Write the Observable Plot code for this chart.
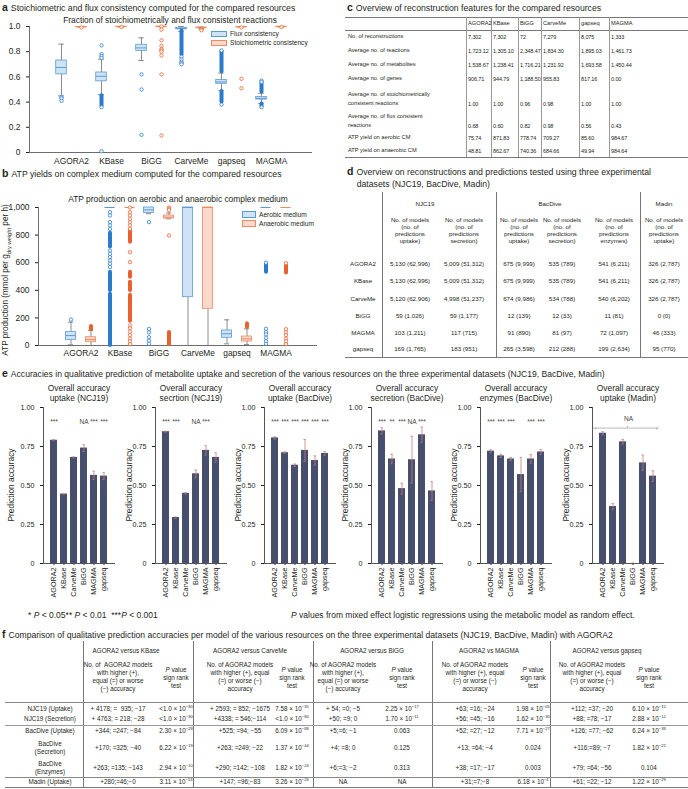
<!DOCTYPE html>
<html><head><meta charset="utf-8">
<script src="https://cdn.jsdelivr.net/npm/d3@7"></script>
<script src="https://cdn.jsdelivr.net/npm/@observablehq/plot@0.6"></script>
<style>
html,body{margin:0;padding:0;background:#fff;}
#fig{position:relative;width:688px;height:789px;overflow:hidden;font-family:"Liberation Sans",Arial,Helvetica,sans-serif;color:#231f20;}
.t{position:absolute;white-space:nowrap;}
.t b.pl{font-size:10.5px;margin-right:3px;}
sup{font-size:65%;vertical-align:super;line-height:0;}
sub{font-size:70%;line-height:0;}
</style></head><body><div id="fig"></div>
<script>
// ================= DATA =================
const resources = ["AGORA2","KBase","BiGG","CarveMe","gapseq","MAGMA"];

// a — flux consistency (box summaries)
const fluxLo  = [0.45, 0.46, 0.73, 0.96, 0.49, 0.39];
const fluxQ1  = [0.62, 0.565, 0.805, 0.978, 0.545, 0.42];
const fluxMed = [0.675, 0.605, 0.83, 0.984, 0.56, 0.43];
const fluxQ3  = [0.73, 0.635, 0.855, 0.99, 0.575, 0.44];
const fluxHi  = [0.86, 0.74, 0.91, 1.0, 0.63, 0.47];
const fluxOut = [[0.44,0.43,0.41],[0.85,0.78,0.765,0.75,0.36,0.01],[0.62,0.50,0.14],[0.76,0.74,0.72,0.71,0.70],[0.81,0.38],[0.57,0.56,0.36]];
const fluxDense = [[],[[0.37,0.45]],[],[[0.775,0.965]],[[0.64,0.80],[0.40,0.485]],[[0.48,0.55],[0.365,0.385]]];
// a — stoichiometric consistency
const stoLo  = [0.995, 0.996, 0.998, 0.985, 0.995, 0.996];
const stoQ1  = [0.995, 0.997, 0.999, 0.99, 0.995, 0.997];
const stoMed = [0.996, 0.998, 0.999, 0.99, 0.996, 0.998];
const stoQ3  = [0.997, 0.999, 1.0, 0.992, 0.997, 0.999];
const stoHi  = [0.999, 1.0, 1.0, 0.995, 0.999, 1.0];
const stoOut = [[0.993],[0.996],[1.0,0.975,0.89,0.845,0.82,0.81,0.80,0.77,0.62,0.135],[0.98,0.975,0.97],[0.993,0.585,0.51],[0.996]];
const stoDense = [[],[],[],[],[],[]];

// b — ATP production, aerobic
const aerLo  = [5, 1000, 955, 0, 12, 1000];
const aerQ1  = [41, 1000, 960, 350, 56, 1000];
const aerMed = [72, 1000, 983, 1000, 85, 1000];
const aerQ3  = [97, 1000, 1000, 1000, 109, 1000];
const aerHi  = [169, 1000, 1000, 1000, 186, 1000];
const aerOut = [[188],[966,942,894,870,845,688,664,640,616,592,568],[894,120,95,60,35,12],[],[],[600,121,97,80,56,31,12]];
const aerDense = [[],[[0,372],[399,531],[713,814]],[],[],[],[[530,590]]];
// b — ATP production, anaerobic
const anaLo  = [0, 1000, 918, 0, 7, 1000];
const anaQ1  = [24, 1000, 920, 266, 29, 1000];
const anaMed = [43, 1000, 930, 1000, 48, 1000];
const anaQ3  = [60, 1000, 942, 1000, 65, 1000];
const anaHi  = [109, 1000, 960, 1000, 121, 1000];
const anaOut = [[],[1000,966,942,918,894,870,845,676,604,145,125,100,75,50,30,10],[1000,990,980,797],[],[],[596,118,95,75,50,30,10]];
const anaDense = [[[114,138]],[[749,833],[495,531],[399,459],[175,365]],[[5,95]],[],[[133,157]],[[525,586]]];

// c — reconstruction features
const cResources = ["AGORA2","KBase","BiGG","CarveMe","gapseq","MAGMA"];
const cLabels = ["No. of reconstructions","Average no. of reactions","Average no. of metabolites","Average no. of genes","Average no. of stoichiometrically<br>consistent reactions","Average no. of flux consistent<br>reactions","ATP yield on aerobic CM","ATP yield on anaerobic CM"];
const cValues = [
  ["7,302","7,302","72","7,279","8,075","1,333"],
  ["1,723.12","1,305.10","2,348.47","1,834.30","1,895.03","1,461.73"],
  ["1,538.67","1,238.41","1,716.21","1,231.92","1,693.58","1,450.44"],
  ["906.71","944.79","1,188.50","955.83","817.16","0.00"],
  ["1.00","1.00","0.96","0.98","1.00","1.00"],
  ["0.68","0.60","0.82","0.98","0.56","0.43"],
  ["75.74","871.83","778.74","709.27","85.60","984.67"],
  ["48.81","862.67","740.36","684.66","49.94","984.64"]
];

// d — datasets
const dGroups = ["NJC19","BacDive","Madin"];
const dSubHeads = ["No. of models<br>(no. of<br>predictions<br>uptake)","No. of models<br>(no. of<br>predictions<br>secretion)","No. of models<br>(no. of<br>predictions<br>uptake)","No. of models<br>(no. of<br>predictions<br>secretion)","No. of models<br>(no. of<br>predictions<br>enzymes)","No. of models<br>(no. of<br>predictions<br>uptake)"];
const dModels = ["AGORA2","KBase","CarveMe","BiGG","MAGMA","gapseq"];
const dValues = [
  ["5,130 (62,996)","5,009 (51,312)","675 (9,999)","535 (789)","541 (6,211)","326 (2,787)"],
  ["5,130 (62,996)","5,009 (51,312)","675 (9,999)","535 (789)","541 (6,211)","326 (2,787)"],
  ["5,120 (62,906)","4,998 (51,237)","674 (9,986)","534 (788)","540 (6,202)","326 (2,787)"],
  ["59 (1,026)","59 (1,177)","12 (139)","12 (33)","11 (81)","0 (0)"],
  ["103 (1,211)","117 (715)","91 (890)","81 (97)","72 (1,097)","46 (333)"],
  ["169 (1,765)","183 (951)","265 (3,598)","212 (288)","199 (2,634)","95 (770)"]
];

// e — prediction accuracies
const models = ["AGORA2","KBase","CarveMe","BiGG","MAGMA","gapseq"];
const accUptakeNJC19 = [0.79,0.445,0.68,0.74,0.565,0.56];
const errUptakeNJC19 = [0.004,0.003,0.004,0.022,0.027,0.022];
const sigUptakeNJC19 = ["***","","","NA","***","***"];
const accSecretionNJC19 = [0.845,0.295,0.45,0.575,0.725,0.68];
const errSecretionNJC19 = [0.003,0.004,0.004,0.025,0.03,0.03];
const sigSecretionNJC19 = ["***","***","","NA","***",""];
const accUptakeBacDive = [0.805,0.71,0.63,0.725,0.66,0.705];
const errUptakeBacDive = [0.008,0.006,0.008,0.07,0.03,0.012];
const sigUptakeBacDive = ["***","***","***","***","***","***"];
const accSecretionBacDive = [0.85,0.67,0.48,0.665,0.825,0.465];
const errSecretionBacDive = [0.02,0.03,0.035,0.15,0.05,0.06];
const sigSecretionBacDive = ["***","**","***","NA","***",""];
const accEnzymesBacDive = [0.72,0.69,0.67,0.57,0.67,0.715];
const errEnzymesBacDive = [0.01,0.01,0.01,0.11,0.028,0.015];
const sigEnzymesBacDive = ["***","***","***","","***","***"];
const accUptakeMadin = [0.835,0.365,0.78,0,0.645,0.56];
const errUptakeMadin = [0.01,0.02,0.015,0.003,0.05,0.035];
const sigUptakeMadin = ["","","","","",""];
const accTitles = ["Overall accuracy<br>uptake (NCJ19)","Overall accuracy<br>secrtion (NCJ19)","Overall accuracy<br>uptake (BacDive)","Overall accuracy<br>secretion (BacDive)","Overall accuracy<br>enzymes (BacDive)","Overall accuracy<br>uptake (Madin)"];

// f — comparisons with AGORA2
const fGroups = ["AGORA2 versus KBase","AGORA2 versus CarveMe","AGORA2 versus BiGG","AGORA2 vs MAGMA","AGORA2 versus gapseq"];
const fCountHeads = ["No. of &nbsp;AGORA2 models<br>with higher (+),<br>equal (=) or worse<br>(−) accuracy","No. of AGORA2 models<br>with higher (+), equal<br>(=) or worse (−)<br>accuracy","No. of AGORA2 models<br>with higher (+),<br>equal (=) or worse<br>(−) accuracy","No. of AGORA2 models<br>with higher (+), equal<br>(=) or worse (−)<br>accuracy","No. of AGORA2 models<br>with higher (+), equal<br>(=) or worse (−)<br>accuracy"];
const fRowLabels = ["NJC19 (Uptake)","NJC19 (Secretion)","BacDive (Uptake)","BacDive<br>(Secretion)","BacDive<br>(Enzymes)","Madin (Uptake)"];
const fCounts = [
  ["+ 4178; = &nbsp;935; −17","+ 4763; = 218; −28","+344; =247; −84","+170; =325; −40","+263; =135; −143","+280;=46;−0"],
  ["+ 2593; = 852; −1675","+4338; = 546;−114","+525; =94; −55","+263; =249; −22","+290; =142; −108","+147; =96;−83"],
  ["+ 54; =0; −5","+50; =9; 0","+5;=6; −1","+4; =8; 0","+6;=3; −2","NA"],
  ["+63; =16; −24","+56; =45; −16","+52; =27; −12","+13; =64; −4","+38; =17; −17","+31;=7;−8"],
  ["+112; =37; −20","+88; =78; −17","+126; =77; −62","+116;=89; −7","+79; =64; −56","+61; =22; −12"]
];
const fPvals = [
  ["<1.0×10^−80","<1.0×10^−80","2.30×10^−28","6.22×10^−19","2.94×10^−10","3.11×10^−53"],
  ["7.58×10^−35","<1.0×10^−80","6.09×10^−88","1.37×10^−44","1.82×10^−24","3.26×10^−26"],
  ["2.25×10^−17","1.70×10^−11","0.063","0.125","0.313","NA"],
  ["1.98×10^−05","1.62×10^−30","7.71×10^−27","0.024","0.003","6.18×10^−4"],
  ["6.10×10^−15","2.88×10^−12","6.24×10^−38","1.82×10^−22","0.104","1.22×10^−29"]
];

// ================= HELPERS =================
const FONT = '"Liberation Sans", Arial, Helvetica, sans-serif';
const INK = "#231f20";
const fig = document.getElementById("fig");
function T(html, x, yc, o = {}) {
  const size = o.size ?? 8.6, L = o.lh ?? size * 1.2, align = o.align ?? "left";
  const n = (html.match(/<br>/g) || []).length + 1;
  const d = document.createElement("div");
  d.className = "t"; d.innerHTML = html;
  d.style.fontSize = size + "px"; d.style.lineHeight = L + "px";
  d.style.top = (yc - n * L / 2) + "px";
  if (o.color) d.style.color = o.color;
  if (o.ls) d.style.letterSpacing = o.ls + "px";
  if (align === "center") { const w = o.w ?? 300; d.style.left = (x - w / 2) + "px"; d.style.width = w + "px"; d.style.textAlign = "center"; }
  else if (align === "right") { const w = o.w ?? 300; d.style.left = (x - w) + "px"; d.style.width = w + "px"; d.style.textAlign = "right"; }
  else d.style.left = x + "px";
  fig.appendChild(d); return d;
}
function R(html, cx, cy, size) {
  const d = document.createElement("div");
  d.className = "t"; d.innerHTML = html; d.style.fontSize = size + "px"; d.style.lineHeight = "1";
  d.style.left = cx + "px"; d.style.top = cy + "px";
  d.style.transform = "translate(-50%,-50%) rotate(-90deg)";
  fig.appendChild(d);
}
function H(x1, x2, y, c = "#8a8a8a", w = 0.8) {
  const d = document.createElement("div");
  d.style.cssText = `position:absolute;left:${x1}px;top:${y}px;width:${x2 - x1}px;height:0;border-top:${w}px solid ${c};`;
  fig.appendChild(d);
}
function V(x, y1, y2, c = "#8a8a8a", w = 0.8) {
  const d = document.createElement("div");
  d.style.cssText = `position:absolute;left:${x}px;top:${y1}px;width:0;height:${y2 - y1}px;border-left:${w}px solid ${c};`;
  fig.appendChild(d);
}
function SW(x, y, w, h, fill, stroke) {
  const d = document.createElement("div");
  d.style.cssText = `position:absolute;left:${x}px;top:${y}px;width:${w}px;height:${h}px;background:${fill};border:0.8px solid ${stroke};box-sizing:border-box;`;
  fig.appendChild(d);
}
function place(el, left, top) { el.style.position = "absolute"; el.style.left = left + "px"; el.style.top = top + "px"; fig.appendChild(el); }
const pv = s => s.replace(/\^(.+)$/, "<sup>$1</sup>").replace("×", " × ");
const plotStyle = (fs) => ({fontFamily: FONT, fontSize: fs + "px", color: INK, background: "none", overflow: "visible"});

// ================= BOX PANELS (a, b) =================
const BLUE = {fill: "#cfe3f4", stroke: "#5b9bd5", dot: "#2b7bcd"};
const ORNG = {fill: "#f9d9cc", stroke: "#ee8a62", dot: "#e9622e"};
function boxRows(lo, q1, med, q3, hi) { return resources.map((c, i) => ({c, lo: lo[i], q1: q1[i], med: med[i], q3: q3[i], hi: hi[i]})); }
function ptRows(arr) { return resources.flatMap((c, i) => arr[i].map(v => ({c, v}))); }
function runRows(arr) { return resources.flatMap((c, i) => arr[i].map(([a, b]) => ({c, a, b}))); }
function boxSeries(rows, outs, runs, side, bw, col) {
  const off = 10 * side, half = 5.5, cap = 3;
  const inL = bw / 2 + off - half, inR = bw - inL - 2 * half;
  const cL = bw / 2 + off - cap, cR = bw - cL - 2 * cap;
  const wk = {stroke: "#6d6e71", strokeWidth: 0.8};
  return [
    Plot.ruleX(rows, {x: "c", y1: "lo", y2: "q1", dx: off, ...wk}),
    Plot.ruleX(rows, {x: "c", y1: "q3", y2: "hi", dx: off, ...wk}),
    Plot.tickY(rows, {x: "c", y: "lo", insetLeft: cL, insetRight: cR, ...wk}),
    Plot.tickY(rows, {x: "c", y: "hi", insetLeft: cL, insetRight: cR, ...wk}),
    Plot.barY(rows, {x: "c", y1: "q1", y2: "q3", insetLeft: inL, insetRight: inR, fill: col.fill, stroke: col.stroke, strokeWidth: 0.8}),
    Plot.tickY(rows, {x: "c", y: "med", insetLeft: inL, insetRight: inR, stroke: col.stroke, strokeWidth: 1}),
    Plot.ruleX(runs, {x: "c", y1: "a", y2: "b", dx: off, stroke: col.dot, strokeWidth: 4, strokeLinecap: "round"}),
    Plot.dot(outs, {x: "c", y: "v", dx: off, r: 1.7, stroke: col.dot, strokeWidth: 0.8, fill: "white"})
  ];
}

// ---- panel a ----
T('<b class="pl">a</b>Stoichiometric and flux consistency computed for the compared resources', 2, 7, {size: 8.7});
const aL = 29, aR = 312, bwA = (aR - aL) / 7;
const plotA = Plot.plot({
  width: 345, height: 158, marginLeft: aL, marginRight: 345 - aR, marginTop: 14, marginBottom: 18,
  style: plotStyle(8.4),
  x: {type: "band", domain: resources, paddingInner: 0, paddingOuter: 0.5, tickSize: 0, tickPadding: 6, label: null},
  y: {domain: [0, 1], ticks: [0, 0.2, 0.4, 0.6, 0.8, 1], tickFormat: d => d === 0 ? "0" : d.toFixed(1), tickSize: 3, label: null},
  marks: [
    Plot.ruleY([0], {stroke: "#6d6e71"}),
    Plot.frame({anchor: "left", stroke: "#6d6e71"}),
    ...boxSeries(boxRows(fluxLo, fluxQ1, fluxMed, fluxQ3, fluxHi), ptRows(fluxOut), runRows(fluxDense), -1, bwA, BLUE),
    ...boxSeries(boxRows(stoLo, stoQ1, stoMed, stoQ3, stoHi), ptRows(stoOut), runRows(stoDense), 1, bwA, ORNG)
  ]
});
place(plotA, 0, 12);
T("Fraction of stoichiometrically and flux consistent reactions", 170, 20, {size: 8.4, align: "center"});
SW(211, 31, 16, 6, BLUE.fill, BLUE.stroke); T("Flux consistency", 230, 34, {size: 6.6});
SW(211, 40, 16, 6, ORNG.fill, ORNG.stroke); T("Stoichiometric consistency", 230, 43, {size: 6.6});

// ---- panel b ----
T('<b class="pl">b</b>ATP yields on complex medium computed for the compared resources', 2, 173, {size: 8.7});
const bL = 38, bR = 317, bwB = (bR - bL) / 7;
const plotB = Plot.plot({
  width: 345, height: 168, marginLeft: bL, marginRight: 345 - bR, marginTop: 12, marginBottom: 18,
  style: plotStyle(8.4),
  x: {type: "band", domain: resources, paddingInner: 0, paddingOuter: 0.5, tickSize: 0, tickPadding: 5, label: null},
  y: {domain: [0, 1000], ticks: [0, 200, 400, 600, 800, 1000], tickFormat: d3.format(","), tickSize: 3, label: null},
  marks: [
    Plot.ruleY([0], {stroke: "#6d6e71"}),
    Plot.frame({anchor: "left", stroke: "#6d6e71"}),
    ...boxSeries(boxRows(aerLo, aerQ1, aerMed, aerQ3, aerHi), ptRows(aerOut), runRows(aerDense), -1, bwB, BLUE),
    ...boxSeries(boxRows(anaLo, anaQ1, anaMed, anaQ3, anaHi), ptRows(anaOut), runRows(anaDense), 1, bwB, ORNG)
  ]
});
place(plotB, 0, 195);
T("ATP production on aerobic and anaerobic complex medium", 178, 199, {size: 8.4, align: "center"});
SW(242, 211, 14, 7, BLUE.fill, BLUE.stroke); T("Aerobic medium", 259, 215, {size: 6.6});
SW(242, 220, 14, 7, ORNG.fill, ORNG.stroke); T("Anaerobic medium", 259, 224, {size: 6.6});
R("ATP production (mmol per g<sub>dry weight</sub> per h)", 6, 280, 8.2);

// ================= TABLE c =================
T('<b class="pl">c</b>Overview of reconstruction features for the compared resources', 347, 7, {size: 8.7});
{
  const colX = [468, 493, 520, 543, 581, 611];
  const vX = [466, 491, 518, 541, 579, 609];
  const valY = [37, 51, 65, 79, 104, 126, 138, 151];
  const labY = [37, 51, 65, 79, 99, 121, 138, 151];
  H(345, 688, 17, "#777"); H(345, 688, 30, "#777"); H(345, 688, 157, "#777");
  vX.forEach(x => V(x, 17, 157, "#999"));
  cResources.forEach((r, j) => T(r, colX[j], 23.5, {size: 5.7}));
  cLabels.forEach((l, i) => T(l, 348, labY[i], {size: 5.7, lh: 9.5}));
  cValues.forEach((row, i) => row.forEach((v, j) => T(v, colX[j], valY[i], {size: 5.5, ls: -0.1})));
}

// ================= TABLE d =================
T('<b class="pl">d</b>Overview on reconstructions and predictions tested using three experimental<br>&nbsp;&nbsp;&nbsp;&nbsp;datasets (NJC19, BacDive, Madin)', 347, 177, {size: 8.7, lh: 12});
{
  const cx = [410, 464, 519, 562, 614, 664];
  const gx = [425, 550, 664];
  const rowY = [264, 281, 299, 316, 333, 349];
  [382, 496, 640].forEach(x => V(x, 192, 357, "#777"));
  H(345, 688, 357, "#777");
  dGroups.forEach((g, k) => T(g, gx[k], 204, {size: 6.2, align: "center", w: 100}));
  dSubHeads.forEach((s, j) => T(s, cx[j], 230, {size: 6.2, lh: 7.2, align: "center", w: 60}));
  dModels.forEach((m, i) => T(m, 363, rowY[i], {size: 6.2, align: "center", w: 40}));
  dValues.forEach((row, i) => row.forEach((v, j) => T(v, cx[j], rowY[i], {size: 6.2, align: "center", w: 60})));
}

// ================= PANEL e =================
T('<b class="pl">e</b>Accuracies in qualitative prediction of metabolite uptake and secretion of the various resources on the three experimental datasets (NJC19, BacDive, Madin)', 2, 373, {size: 8.6});
const accSets = [
  [accUptakeNJC19, errUptakeNJC19, sigUptakeNJC19],
  [accSecretionNJC19, errSecretionNJC19, sigSecretionNJC19],
  [accUptakeBacDive, errUptakeBacDive, sigUptakeBacDive],
  [accSecretionBacDive, errSecretionBacDive, sigSecretionBacDive],
  [accEnzymesBacDive, errEnzymesBacDive, sigEnzymesBacDive],
  [accUptakeMadin, errUptakeMadin, sigUptakeMadin]
];
const axisX = [43, 155, 264, 371, 480, 592];
const labOff = [32, 26, 26, 26, 26, 26];
const FW = 72;
accSets.forEach(([vals, errs, sigs], k) => {
  const data = models.map((m, i) => ({m, v: vals[i], e: errs[i], s: sigs[i]}));
  const red = {stroke: "#c97b7b", strokeWidth: 0.8};
  const marks = [
    Plot.barY(data, {x: "m", y: "v", fill: "#474f6f"}),
    Plot.ruleX(data, {x: "m", y1: d => d.v - d.e, y2: d => d.v + d.e, ...red}),
    Plot.tickY(data, {x: "m", y: d => d.v + d.e, insetLeft: 2.5, insetRight: 2.5, ...red}),
    Plot.tickY(data, {x: "m", y: d => d.v - d.e, insetLeft: 2.5, insetRight: 2.5, ...red}),
    Plot.text(data.filter(d => d.s), {x: "m", y: 0.905, text: "s", fontSize: 6.5, fill: "#444"}),
    Plot.ruleY([0], {stroke: "#555"}),
    Plot.frame({anchor: "left", stroke: "#555"})
  ];
  if (k === 5) {
    marks.push(
      Plot.ruleY([0.868], {insetLeft: 1, insetRight: 5, stroke: "#999", strokeWidth: 0.7}),
      Plot.ruleX([models[0]], {x: d => d, y1: 0.856, y2: 0.868, dx: -7.5, stroke: "#999", strokeWidth: 0.7}),
      Plot.ruleX([models[5]], {x: d => d, y1: 0.856, y2: 0.868, dx: 3.5, stroke: "#999", strokeWidth: 0.7}),
      Plot.ruleX([models[3]], {x: d => d, y1: 0.868, y2: 0.878, dx: -5.5, stroke: "#999", strokeWidth: 0.7}),
      Plot.text([{t: "NA", y: 0.93}], {y: "y", text: "t", fontSize: 6.5, fill: "#444"})
    );
  }
  const p = Plot.plot({
    width: 40 + FW + 3, height: 7 + 156 + 42, marginLeft: 40, marginRight: 3, marginTop: 7, marginBottom: 42,
    style: plotStyle(7.2),
    x: {domain: models, type: "band", paddingInner: 0.27, paddingOuter: 0.41, tickRotate: -90, tickSize: 2, tickPadding: 2, label: null},
    y: {domain: [0, 1], ticks: [0, 0.25, 0.5, 0.75, 1], tickFormat: d => d === 0 ? "0" : d.toFixed(2), tickSize: 3, label: null},
    marks
  });
  place(p, axisX[k] - 40, 400);
  T(accTitles[k], axisX[k] + FW / 2, 393, {size: 8.4, lh: 10.5, align: "center", w: 120});
  R("Prediction accuracy", axisX[k] - labOff[k], 485, 8.4);
});
T("* <i>P</i> &lt; 0.05** <i>P</i> &lt; 0.01 &nbsp;***<i>P</i> &lt; 0.001", 28, 615, {size: 8.5});
T("<i>P</i> values from mixed effect logistic regressions using the metabolic model as random effect.", 291, 615, {size: 8.5});

// ================= TABLE f =================
T('<b class="pl">f</b>Comparison of qualitative prediction accuracies per model of the various resources on the three experimental datasets (NJC19, BacDive, Madin) with AGORA2', 2, 634, {size: 8.6});
{
  const gX = [126, 250, 372, 489, 607];
  const cntX = [118, 240, 343, 475, 592];
  const pX = [176, 292, 402, 533, 649];
  const rowY = [709, 719, 731, 748, 768, 782];
  [83, 193, 313, 432, 550].forEach(x => V(x, 641, 787, "#777"));
  H(5, 688, 702, "#888", 1.4); H(5, 688, 725, "#999"); H(5, 688, 777, "#888", 1.4); H(5, 688, 787, "#777");
  fGroups.forEach((g, k) => T(g, gX[k], 651, {size: 6.3, align: "center", w: 110}));
  fCountHeads.forEach((h, k) => T(h, cntX[k], 677, {size: 6.3, lh: 7.8, align: "center", w: 90}));
  pX.forEach(x => T("<i>P</i> value<br>sign rank<br>test", x, 678, {size: 6.3, lh: 7.8, align: "center", w: 50}));
  fRowLabels.forEach((l, i) => T(l, 50, rowY[i], {size: 6.3, lh: 8, align: "center", w: 80}));
  fCounts.forEach((col, k) => col.forEach((v, i) => T(v, cntX[k], rowY[i], {size: 6.3, align: "center", w: 90})));
  fPvals.forEach((col, k) => col.forEach((v, i) => T(pv(v), pX[k], rowY[i], {size: 6.3, align: "center", w: 60})));
}
</script></body></html>
